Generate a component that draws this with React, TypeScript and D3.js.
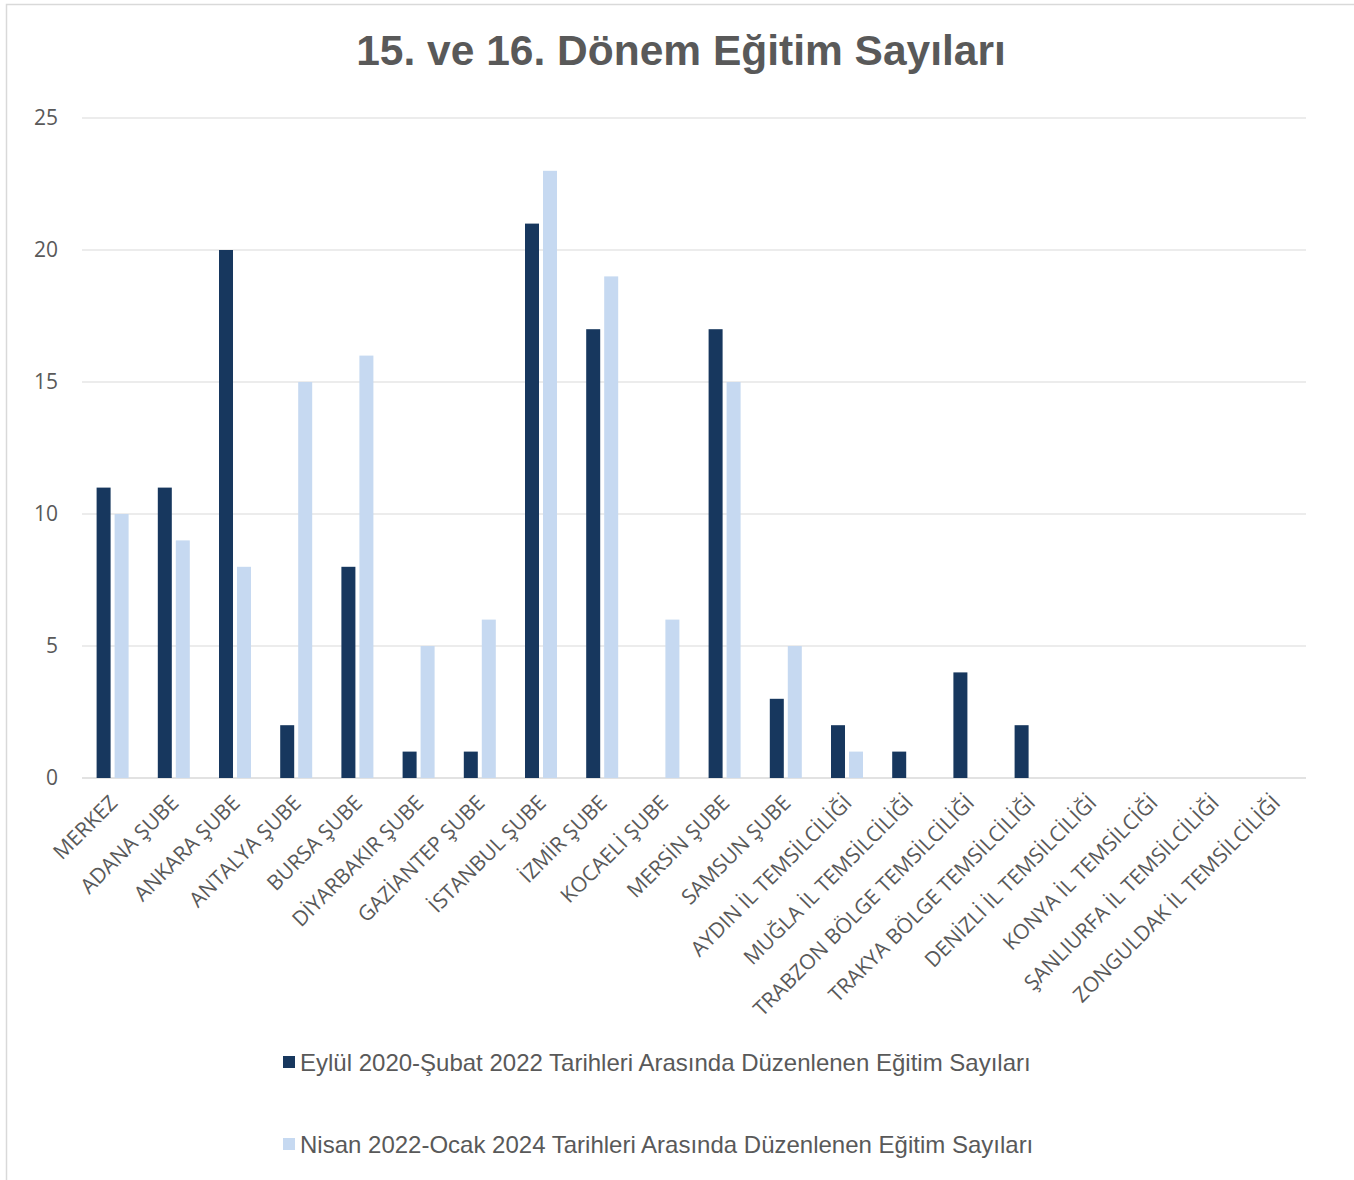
import React from "react"
import * as d3 from "d3"

const categories = [
  "MERKEZ",
  "ADANA ŞUBE",
  "ANKARA ŞUBE",
  "ANTALYA ŞUBE",
  "BURSA ŞUBE",
  "DİYARBAKIR ŞUBE",
  "GAZİANTEP ŞUBE",
  "İSTANBUL ŞUBE",
  "İZMİR ŞUBE",
  "KOCAELİ ŞUBE",
  "MERSİN ŞUBE",
  "SAMSUN ŞUBE",
  "AYDIN İL TEMSİLCİLİĞİ",
  "MUĞLA İL TEMSİLCİLİĞİ",
  "TRABZON BÖLGE TEMSİLCİLİĞİ",
  "TRAKYA BÖLGE TEMSİLCİLİĞİ",
  "DENİZLİ İL TEMSİLCİLİĞİ",
  "KONYA İL TEMSİLCİĞİ",
  "ŞANLIURFA İL TEMSİLCİLİĞİ",
  "ZONGULDAK İL TEMSİLCİLİĞİ",
]

const donem15 = [11, 11, 20, 2, 8, 1, 1, 21, 17, 0, 17, 3, 2, 1, 4, 2, 0, 0, 0, 0]
const donem16 = [10, 9, 8, 15, 16, 5, 6, 23, 19, 6, 15, 5, 1, 0, 0, 0, 0, 0, 0, 0]

const seriesNames = [
  "Eylül 2020-Şubat 2022 Tarihleri Arasında Düzenlenen Eğitim Sayıları",
  "Nisan 2022-Ocak 2024 Tarihleri Arasında Düzenlenen Eğitim Sayıları",
]
const seriesColors = ["#17375E", "#C6D9F1"]
const yTicks = [0, 5, 10, 15, 20, 25]

const W = 1354
const H = 1180
const plot = { left: 82, right: 1306, top: 118, bottom: 778 }

export default function App() {
  const x0 = d3.scaleBand<string>().domain(categories).range([plot.left, plot.right])
  const x1 = d3.scaleBand<number>().domain([0, 1]).range([0, 32]).paddingInner(0.222)
  const y = d3.scaleLinear().domain([0, 25]).range([plot.bottom, plot.top])
  const series = [donem15, donem16]

  return (
    <div style={{ position: "absolute", left: 0, top: 0 }}>
      <svg width={W} height={H} style={{ display: "block" }}>
        <rect x={0} y={0} width={W} height={H} fill="#fff" />
        <rect x={6.5} y={4.5} width={W + 10} height={H + 10} fill="none" stroke="#d9d9d9" strokeWidth={1.5} />
        <text
          x={681}
          y={65}
          textAnchor="middle"
          fontFamily="Liberation Sans, Arial, sans-serif"
          fontWeight="bold"
          fontSize={42.5}
          fill="#595959"
        >
          15. ve 16. Dönem Eğitim Sayıları
        </text>

        {yTicks.map((t) => (
          <g key={t}>
            <line x1={plot.left} x2={plot.right} y1={y(t)} y2={y(t)} stroke="#d9d9d9" strokeWidth={t === 0 ? 1.5 : 1.2} />
            <text
              x={58}
              y={y(t)}
              dy="0.35em"
              textAnchor="end"
              fontFamily="Open Sans, sans-serif"
              fontSize={21}
              fill="#595959"
            >
              {t}
            </text>
          </g>
        ))}

        {categories.map((c, i) => {
          const gx = (x0(c) || 0) + x0.bandwidth() / 2 - 16
          return (
            <g key={c}>
              {series.map((s, si) =>
                s[i] > 0 ? (
                  <rect
                    key={si}
                    x={gx + (x1(si) || 0)}
                    y={y(s[i])}
                    width={x1.bandwidth()}
                    height={y(0) - y(s[i])}
                    fill={seriesColors[si]}
                  />
                ) : null
              )}
            </g>
          )
        })}

        {categories.map((c) => {
          const cx = (x0(c) || 0) + x0.bandwidth() / 2 - 5
          return (
            <text
              key={c}
              transform={`translate(${cx},${793}) rotate(-45)`}
              dy="0.75em"
              textAnchor="end"
              fontFamily="Open Sans, sans-serif"
              fontSize={21}
              fill="#595959"
            >
              {c}
            </text>
          )
        })}

        {seriesNames.map((n, i) => {
          const ly = 1062 + i * 82
          return (
            <g key={n}>
              <rect x={283} y={ly - 6} width={12} height={12} fill={seriesColors[i]} />
              <text
                x={300}
                y={ly}
                dy="0.36em"
                fontFamily="Liberation Sans, Arial, sans-serif"
                fontSize={24}
                fill="#595959"
              >
                {n}
              </text>
            </g>
          )
        })}
      </svg>
    </div>
  )
}
